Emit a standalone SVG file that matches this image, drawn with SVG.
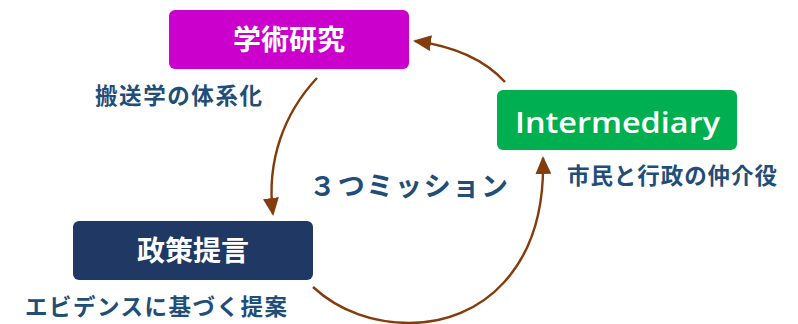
<svg xmlns="http://www.w3.org/2000/svg" width="798" height="324" viewBox="0 0 798 324">
<style>
.box-text{font-family:"Noto Sans CJK JP","Noto Sans",sans-serif;font-weight:bold;fill:#ffffff;text-anchor:middle}
.label{font-family:"Noto Sans CJK JP","Noto Sans",sans-serif;font-weight:bold;fill:#1F4E79}
.conn{fill:none;stroke:#843C0C;stroke-width:2.4}
</style>
<defs>
<marker id="arrow" markerUnits="userSpaceOnUse" markerWidth="18" markerHeight="16" viewBox="0 0 18 16" refX="16" refY="8" orient="auto">
<path d="M0,0 L18,8 L0,16 Z" fill="#843C0C"/>
</marker>
</defs>
<rect width="798" height="324" fill="#ffffff"/>
<g id="connectors">
<path class="conn" d="M505,82 Q475,49 415,41" marker-end="url(#arrow)"/>
<path class="conn" d="M317,78 C285,112 266,160 273,214" marker-end="url(#arrow)"/>
<path class="conn" d="M313,287 C340,312 375,323 410,323 C480,323 546,270 543,158" marker-end="url(#arrow)"/>
</g>
<g id="node-research">
<rect x="169" y="10" width="240" height="59" rx="6" fill="#CC00CC"/>
<text class="box-text" x="289" y="50" font-size="28">学術研究</text>
<text class="label" x="95" y="104" font-size="22.5" textLength="167" lengthAdjust="spacing">搬送学の体系化</text>
</g>
<g id="node-intermediary">
<rect x="497" y="90" width="240" height="60" rx="6" fill="#00B050"/>
<text x="515" y="133" font-family="'Open Sans','Noto Sans',sans-serif" font-weight="600" font-size="29" fill="#ffffff" textLength="205" lengthAdjust="spacingAndGlyphs">Intermediary</text>
<text class="label" x="567" y="184" font-size="22.5" textLength="210" lengthAdjust="spacing">市民と行政の仲介役</text>
</g>
<g id="node-policy">
<rect x="73" y="221" width="240" height="59" rx="6" fill="#203864"/>
<text class="box-text" x="193" y="261" font-size="28">政策提言</text>
<text class="label" x="25" y="315" font-size="22.5" textLength="262" lengthAdjust="spacing">エビデンスに基づく提案</text>
</g>
<g id="center-label">
<text class="label" x="309" y="196" font-size="27" textLength="199" lengthAdjust="spacing">３つミッション</text>
</g>
</svg>
